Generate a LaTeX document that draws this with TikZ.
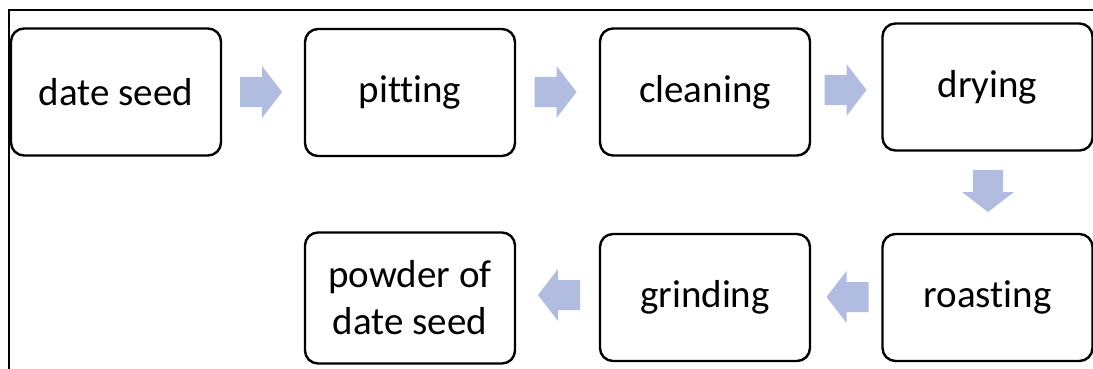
\documentclass[tikz,border=0pt]{standalone}
\usepackage{fontspec}
\setmainfont[Ligatures=NoCommon]{Carlito}
\definecolor{arrowfill}{RGB}{176,188,224}
\begin{document}
\begin{tikzpicture}[x=1pt,y=-1pt,
  stepbox/.style={draw=black,line width=2.4pt,rounded corners=13pt,
    minimum width=210pt,minimum height=127pt,inner sep=0pt,
    font=\fontsize{39}{47}\selectfont,align=center},
  blockarrow/.pic={\fill[arrowfill] (-21,-15) -- (1,-15) -- (1,-26) -- (21,0) -- (1,26) -- (1,15) -- (-21,15) -- cycle;}
]
\useasboundingbox (0,0) rectangle (1093,369);
% frame
\draw[line width=1.6pt] (9,369) -- (9,10) -- (1093,10);
% boxes
\node[stepbox] (seed) at (116,92) {date seed};
\node[stepbox] (pit) at (410,92.5) {pitting};
\node[stepbox] (clean) at (705,92) {cleaning};
\node[stepbox] (dry) at (987.5,87) {drying};
\node[stepbox] (roast) at (987.5,297.5) {roasting};
\node[stepbox] (grind) at (705,297.5) {grinding};
\node[stepbox,minimum height=131pt] (powder) at (410,298) {powder of\\date seed};
% block arrows
\pic at (261,92) {blockarrow};
\pic at (555.5,92) {blockarrow};
\pic at (845.5,90) {blockarrow};
\pic[rotate=-90] at (988,191) {blockarrow};
\pic[rotate=180] at (847.5,297) {blockarrow};
\pic[rotate=180] at (559,295) {blockarrow};
\end{tikzpicture}
\end{document}
